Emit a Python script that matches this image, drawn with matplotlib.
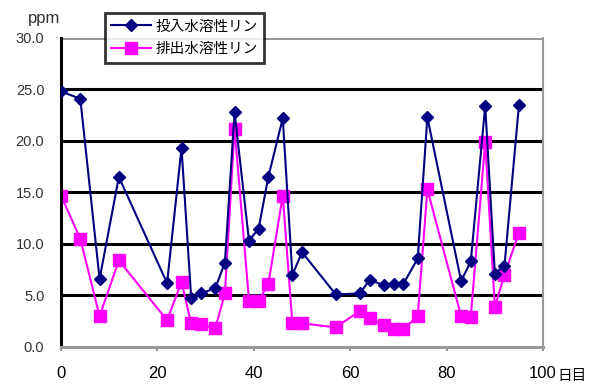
import matplotlib
matplotlib.use("Agg")
import matplotlib.pyplot as plt

plt.rcParams["font.family"] = ["Liberation Sans", "Noto Sans CJK JP", "DejaVu Sans"]

days_in = [0, 4, 8, 12, 22, 25, 27, 29, 32, 34, 36, 39, 41, 43, 46, 48, 50,
           57, 62, 64, 67, 69, 71, 74, 76, 83, 85, 88, 90, 92, 95]
p_in = [24.8, 24.1, 6.6, 16.5, 6.2, 19.3, 4.8, 5.2, 5.7, 8.2, 22.8, 10.3, 11.5,
        16.5, 22.2, 7.0, 9.2, 5.1, 5.2, 6.5, 6.0, 6.1, 6.1, 8.6, 22.3, 6.4, 8.3,
        23.4, 7.1, 7.9, 23.5]
days_out = [0, 4, 8, 12, 22, 25, 27, 29, 32, 34, 36, 39, 41, 43, 46, 48, 50,
            57, 62, 64, 67, 69, 71, 74, 76, 83, 85, 88, 90, 92, 95]
p_out = [14.7, 10.5, 3.0, 8.4, 2.6, 6.3, 2.3, 2.2, 1.8, 5.2, 21.2, 4.5, 4.5,
         6.1, 14.7, 2.3, 2.3, 1.9, 3.5, 2.8, 2.1, 1.7, 1.7, 3.0, 15.3, 3.0, 2.9,
         19.9, 3.9, 7.0, 11.1]
label_in = "投入水溶性リン"
label_out = "排出水溶性リン"
yticks = [0, 5, 10, 15, 20, 25, 30]
xticks = [0, 20, 40, 60, 80, 100]

fig = plt.figure(figsize=(5.89, 3.87), dpi=100)
ax = fig.add_axes([0.1036, 0.1034, 0.8184, 0.7986])

for y in yticks[1:-1]:
    ax.axhline(y, color="black", lw=2.2, zorder=1)
ax.axhline(30, color="#999999", lw=2.2, zorder=1)

ax.plot(days_in, p_in, color="#000080", marker="D", ms=6, lw=1.5,
        label=label_in, zorder=3)
ax.plot(days_out, p_out, color="#FF00FF", marker="s", ms=8, lw=1.5,
        label=label_out, zorder=2)

ax.set_xlim(0, 100)
ax.set_ylim(0, 30)
ax.set_xticks(xticks)
ax.set_xticklabels([str(v) for v in xticks])
ax.set_yticks(yticks)
ax.set_yticklabels([f"{v:.1f}" for v in yticks])
ax.tick_params(axis="x", direction="out", length=3, width=1.5, color="#999999",
               pad=11, labelsize=12)
ax.tick_params(axis="y", length=0, pad=12, labelsize=10.5, labelcolor="#333333")

ax.spines["left"].set_color("black")
ax.spines["left"].set_linewidth(2.2)
ax.spines["bottom"].set_color("#999999")
ax.spines["bottom"].set_linewidth(2.2)
ax.spines["right"].set_color("#999999")
ax.spines["right"].set_linewidth(1.5)
ax.spines["top"].set_visible(False)

fig.text(0.048, 0.953, "ppm", fontsize=12, color="#333333", ha="left", va="center")
fig.text(0.947, 0.028, "日目", fontsize=10.5, ha="left", va="center",
         family=["Noto Sans CJK JP", "DejaVu Sans"])

leg = ax.legend(loc="upper left", bbox_to_anchor=(0.091, 1.081), frameon=True,
                fancybox=False, edgecolor="black",
                prop={"family": ["Noto Sans CJK JP", "DejaVu Sans"], "size": 10.5},
                handlelength=2.7, borderpad=0.45, labelspacing=0.6,
                handletextpad=0.3, borderaxespad=0)
leg.get_frame().set_linewidth(2)

fig.savefig("out.png", dpi=100)
